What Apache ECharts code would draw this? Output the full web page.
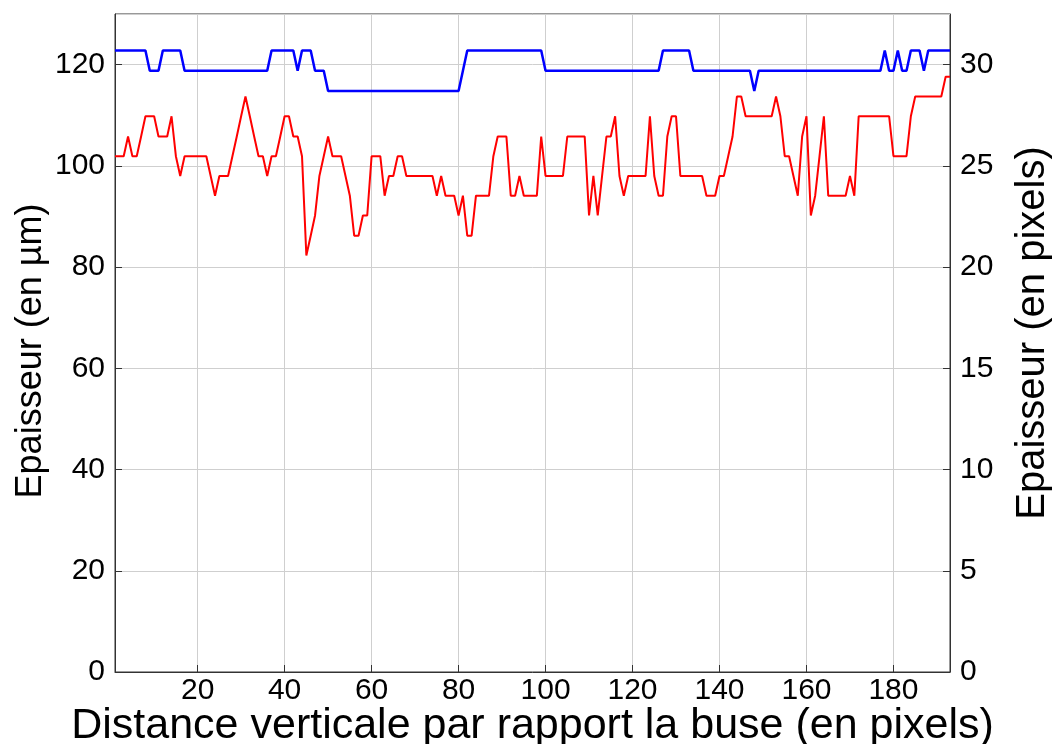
<!DOCTYPE html>
<html>
<head>
<meta charset="utf-8">
<script src="https://cdn.jsdelivr.net/npm/echarts@6/dist/echarts.min.js"></script>
<style>
  html, body { margin: 0; padding: 0; background: #ffffff; }
  #chart { width: 1055px; height: 744px; }
</style>
</head>
<body>
<div id="chart"></div>
<script>
// Thickness along the jet, sampled at each vertical pixel (1..193) below the nozzle.
const distanceStart = 1;
const distanceEnd = 193;
const xTickValues = [20, 40, 60, 80, 100, 120, 140, 160, 180];

// Thickness in micrometres (left axis)
const thicknessUm = [
  101.9,101.9,101.9,105.8,101.9,101.9,105.8,109.8,109.8,109.8,
  105.8,105.8,105.8,109.8,101.9,98.0,101.9,101.9,101.9,101.9,
  101.9,101.9,98.0,94.1,98.0,98.0,98.0,101.9,105.8,109.8,
  113.7,109.8,105.8,101.9,101.9,98.0,101.9,101.9,105.8,109.8,
  109.8,105.8,105.8,101.9,82.3,86.2,90.2,98.0,101.9,105.8,
  101.9,101.9,101.9,98.0,94.1,86.2,86.2,90.2,90.2,101.9,
  101.9,101.9,94.1,98.0,98.0,101.9,101.9,98.0,98.0,98.0,
  98.0,98.0,98.0,98.0,94.1,98.0,94.1,94.1,94.1,90.2,
  94.1,86.2,86.2,94.1,94.1,94.1,94.1,101.9,105.8,105.8,
  105.8,94.1,94.1,98.0,94.1,94.1,94.1,94.1,105.8,98.0,
  98.0,98.0,98.0,98.0,105.8,105.8,105.8,105.8,105.8,90.2,
  98.0,90.2,98.0,105.8,105.8,109.8,98.0,94.1,98.0,98.0,
  98.0,98.0,98.0,109.8,98.0,94.1,94.1,105.8,109.8,109.8,
  98.0,98.0,98.0,98.0,98.0,98.0,94.1,94.1,94.1,98.0,
  98.0,101.9,105.8,113.7,113.7,109.8,109.8,109.8,109.8,109.8,
  109.8,109.8,113.7,109.8,101.9,101.9,98.0,94.1,105.8,109.8,
  90.2,94.1,101.9,109.8,94.1,94.1,94.1,94.1,94.1,98.0,
  94.1,109.8,109.8,109.8,109.8,109.8,109.8,109.8,109.8,101.9,
  101.9,101.9,101.9,109.8,113.7,113.7,113.7,113.7,113.7,113.7,
  113.7,117.6,117.6
];

// Thickness in pixels (right axis)
const thicknessPx = [
  30.7,30.7,30.7,30.7,30.7,30.7,30.7,30.7,29.7,29.7,
  29.7,30.7,30.7,30.7,30.7,30.7,29.7,29.7,29.7,29.7,
  29.7,29.7,29.7,29.7,29.7,29.7,29.7,29.7,29.7,29.7,
  29.7,29.7,29.7,29.7,29.7,29.7,30.7,30.7,30.7,30.7,
  30.7,30.7,29.7,30.7,30.7,30.7,29.7,29.7,29.7,28.7,
  28.7,28.7,28.7,28.7,28.7,28.7,28.7,28.7,28.7,28.7,
  28.7,28.7,28.7,28.7,28.7,28.7,28.7,28.7,28.7,28.7,
  28.7,28.7,28.7,28.7,28.7,28.7,28.7,28.7,28.7,28.7,
  29.7,30.7,30.7,30.7,30.7,30.7,30.7,30.7,30.7,30.7,
  30.7,30.7,30.7,30.7,30.7,30.7,30.7,30.7,30.7,29.7,
  29.7,29.7,29.7,29.7,29.7,29.7,29.7,29.7,29.7,29.7,
  29.7,29.7,29.7,29.7,29.7,29.7,29.7,29.7,29.7,29.7,
  29.7,29.7,29.7,29.7,29.7,29.7,30.7,30.7,30.7,30.7,
  30.7,30.7,30.7,29.7,29.7,29.7,29.7,29.7,29.7,29.7,
  29.7,29.7,29.7,29.7,29.7,29.7,29.7,28.7,29.7,29.7,
  29.7,29.7,29.7,29.7,29.7,29.7,29.7,29.7,29.7,29.7,
  29.7,29.7,29.7,29.7,29.7,29.7,29.7,29.7,29.7,29.7,
  29.7,29.7,29.7,29.7,29.7,29.7,29.7,30.7,29.7,29.7,
  30.7,29.7,29.7,30.7,30.7,30.7,29.7,30.7,30.7,30.7,
  30.7,30.7,30.7
];

const leftName = 'Epaisseur (en µm)';
const rightName = 'Epaisseur (en pixels)';
const xName = 'Distance verticale par rapport la buse (en pixels)';

const FONT = "'Liberation Sans', Arial, Helvetica, sans-serif";
const tickFont = { fontFamily: FONT, fontSize: 30, color: '#000' };
const gridLine = { show: true, lineStyle: { color: '#cfcfcf', width: 1 } };
const frameLine = { show: true, lineStyle: { color: '#333', width: 1 } };
const inTick = { show: true, inside: true, length: 7, lineStyle: { color: '#333' } };

const toPairs = arr => arr.map((v, i) => [distanceStart + i, v]);

const chart = echarts.init(document.getElementById('chart'), null, { renderer: 'canvas' });
chart.setOption({
  animation: false,
  backgroundColor: '#ffffff',
  grid: {
    left: 115, right: 105, top: 14, bottom: 72,
    containLabel: false,
    outerBoundsMode: 'none',
    show: true, borderColor: '#333', borderWidth: 1, backgroundColor: 'transparent'
  },
  xAxis: {
    type: 'value',
    min: distanceStart,
    max: distanceEnd,
    name: xName,
    nameLocation: 'middle',
    nameGap: 33,
    nameMoveOverlap: false,
    nameTextStyle: { fontFamily: FONT, fontSize: 43, color: '#000' },
    axisLine: frameLine,
    axisTick: Object.assign({ customValues: xTickValues }, inTick),
    axisLabel: Object.assign({ customValues: xTickValues, margin: 4 }, tickFont),
    splitLine: gridLine
  },
  yAxis: [
    {
      type: 'value',
      min: 0, max: 130, interval: 20,
      position: 'left',
      name: leftName,
      nameLocation: 'middle',
      nameGap: 66,
      nameMoveOverlap: false,
      nameTextStyle: { fontFamily: FONT, fontSize: 36, color: '#000', padding: [0, 16, 0, 0] },
      axisLine: frameLine,
      axisTick: inTick,
      axisLabel: Object.assign({ margin: 10, showMaxLabel: false }, tickFont),
      splitLine: gridLine
    },
    {
      type: 'value',
      min: 0, max: 32.5, interval: 5,
      position: 'right',
      name: rightName,
      nameLocation: 'middle',
      nameGap: 63,
      nameMoveOverlap: false,
      nameTextStyle: { fontFamily: FONT, fontSize: 40, color: '#000', padding: [0, 0, 0, 20] },
      axisLine: frameLine,
      axisTick: inTick,
      axisLabel: Object.assign({ margin: 10, showMaxLabel: false }, tickFont),
      splitLine: { show: false }
    }
  ],
  series: [
    {
      type: 'line',
      yAxisIndex: 0,
      data: toPairs(thicknessUm),
      showSymbol: false,
      lineStyle: { color: '#ff0000', width: 2 },
      itemStyle: { color: '#ff0000' }
    },
    {
      type: 'line',
      yAxisIndex: 1,
      data: toPairs(thicknessPx),
      showSymbol: false,
      lineStyle: { color: '#0000ff', width: 2.5 },
      itemStyle: { color: '#0000ff' }
    }
  ]
});
</script>
</body>
</html>
